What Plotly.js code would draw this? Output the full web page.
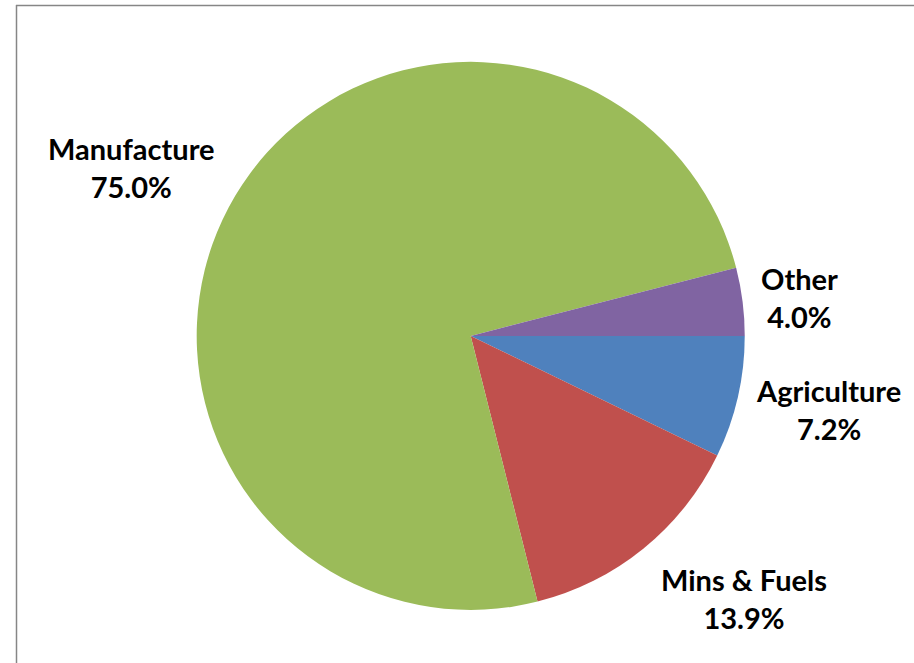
<!DOCTYPE html>
<html>
<head>
<meta charset="utf-8">
<script src="https://cdn.plot.ly/plotly-3.0.1.min.js"></script>
<style>
  html, body { margin: 0; padding: 0; background: #ffffff; }
  #chart { width: 914px; height: 663px; }
</style>
</head>
<body>
<div id="chart"></div>
<script>
// Data
const categories = ["Agriculture", "Mins & Fuels", "Manufacture", "Other"];
const shares = [7.2, 13.9, 75.0, 4.0];
const shareLabels = ["7.2%", "13.9%", "75.0%", "4.0%"];
const sliceColors = ["#4F81BD", "#C0504D", "#9BBB59", "#8064A2"];

// Label placement (layout only, paper coordinates)
const labelPos = [
  { x: 0.9070, y: 0.3816 },  // Agriculture
  { x: 0.8140, y: 0.0980 },  // Mins & Fuels
  { x: 0.1439, y: 0.7480 },  // Manufacture
  { x: 0.8742, y: 0.5520 }   // Other
];

const trace = {
  type: "pie",
  labels: categories,
  values: shares,
  sort: false,
  direction: "clockwise",
  rotation: 90,
  textinfo: "none",
  hoverinfo: "label+percent",
  marker: { colors: sliceColors, line: { width: 0 } },
  domain: { x: [0.2152, 0.8148], y: [0.0799, 0.9069] },
  showlegend: false
};

const annotations = categories.map((c, i) => ({
  xref: "paper", yref: "paper",
  x: labelPos[i].x, y: labelPos[i].y,
  xanchor: "center", yanchor: "middle",
  align: "center",
  showarrow: false,
  text: "<b>" + c.replace("&", "&amp;") + "<br>" + shareLabels[i] + "</b>",
  font: { family: "Lato, 'Open Sans', sans-serif", size: 29, color: "#000000" }
}));

const layout = {
  width: 914,
  height: 663,
  margin: { l: 0, r: 0, t: 0, b: 0 },
  paper_bgcolor: "#ffffff",
  plot_bgcolor: "#ffffff",
  showlegend: false,
  annotations: annotations,
  shapes: [
    { type: "line", xref: "paper", yref: "paper",
      x0: 16 / 914, x1: 1, y0: 1 - 5.5 / 663, y1: 1 - 5.5 / 663,
      line: { color: "#868686", width: 1.5 } },
    { type: "line", xref: "paper", yref: "paper",
      x0: 16.5 / 914, x1: 16.5 / 914, y0: 0, y1: 1 - 5 / 663,
      line: { color: "#868686", width: 1.5 } }
  ]
};

Plotly.newPlot("chart", [trace], layout, { displayModeBar: false, staticPlot: true });
</script>
</body>
</html>
